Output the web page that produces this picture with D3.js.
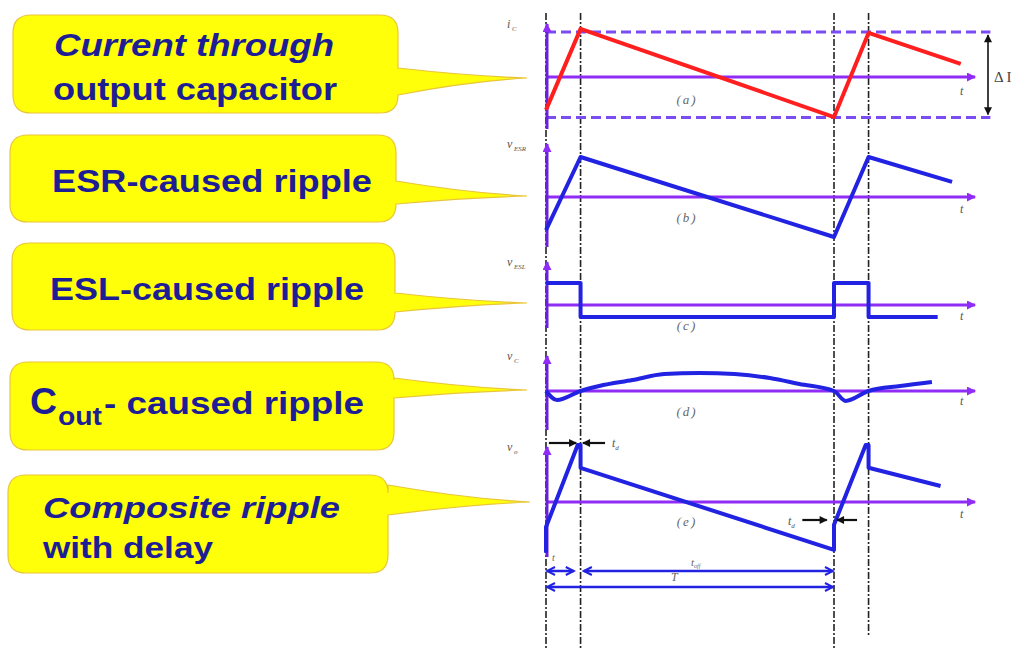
<!DOCTYPE html>
<html>
<head>
<meta charset="utf-8">
<script src="https://cdn.jsdelivr.net/npm/d3@7"></script>
<style>
  html, body { margin: 0; padding: 0; background: #ffffff; }
  svg { display: block; }
</style>
</head>
<body>
<svg id="chart" width="1013" height="648"></svg>
<script>
// ---- Waveform data (time in units of the switching period T, amplitude normalised) ----
const panelTags = ["(a)", "(b)", "(c)", "(d)", "(e)"];
const axisNames = ["i", "v", "v", "v", "v"];
const axisSubs = ["C", "ESR", "ESL", "C", "o"];
const guideTimes = [0, 0.12, 1, 1.12];          // switching edges: 0, t_on, T, T + t_on

// (a) capacitor current
const icTimes = [0, 0.12, 1, 1.12, 1.44];
const icValues = [-0.73, 1.07, -0.89, 0.98, 0.29];
const icBand = [1.0, -0.9];                        // peak / valley guide levels (ΔI)

// (b) ESR ripple
const esrTimes = [0, 0.12, 1, 1.12, 1.41];
const esrValues = [-0.83, 1.0, -1.0, 1.0, 0.38];

// (c) ESL ripple
const eslTimes = [0, 0.12, 0.12, 1, 1, 1.12, 1.12, 1.36];
const eslValues = [1.0, 1.0, -0.55, -0.55, 1.0, 1.0, -0.55, -0.55];

// (d) capacitance ripple
const cTimes = [0, 0.038, 0.12, 0.185, 0.30, 0.41, 0.533, 0.655, 0.777, 0.88, 1.0, 1.04, 1.12, 1.23, 1.34];
const cValues = [0, -0.5, 0, 0.28, 0.61, 0.94, 1.0, 0.94, 0.72, 0.39, 0, -0.55, 0, 0.28, 0.5];

// (e) composite ripple with delay
const voTimes = [0, 0, 0.11, 0.12, 0.12, 1.0, 1.0, 1.11, 1.12, 1.12, 1.37];
const voValues = [-0.89, -0.44, 1.0, 1.0, 0.6, -0.84, -0.4, 1.0, 1.0, 0.6, 0.28];

// Callout texts
const calloutLines = [
  ["Current through", "output capacitor"],
  ["ESR-caused ripple"],
  ["ESL-caused ripple"],
  ["C", "out", " - caused ripple"],
  ["Composite ripple", "with delay"]
];

// ---- Layout ----
const svg = d3.select("#chart");
const x = d3.scaleLinear().domain([0, 1]).range([546, 834]);

const panels = [
  { axisY: 77,  unit: 45, vTop: 24,  vBot: 129, tY: 95,  tagY: 104 },
  { axisY: 197, unit: 40, vTop: 144, vBot: 247, tY: 213, tagY: 222 },
  { axisY: 305, unit: 22, vTop: 262, vBot: 328, tY: 320, tagY: 330 },
  { axisY: 391, unit: 18, vTop: 356, vBot: 430, tY: 405, tagY: 416 },
  { axisY: 502, unit: 57, vTop: 447, vBot: 557, tY: 518, tagY: 526 }
];
panels.forEach(p => {
  p.y = d3.scaleLinear().domain([-1, 1]).range([p.axisY + p.unit, p.axisY - p.unit]);
});

const purple = "#8f2cf5";
const blue = "#2222e2";
const red = "#ff1f1f";
const navy = "#1d1d96";

// ---- Markers ----
const defs = svg.append("defs");
function marker(id, color, w, h, filled) {
  const m = defs.append("marker")
    .attr("id", id).attr("viewBox", "0 0 10 10")
    .attr("refX", 9).attr("refY", 5)
    .attr("markerWidth", w).attr("markerHeight", h)
    .attr("markerUnits", "userSpaceOnUse")
    .attr("orient", "auto-start-reverse");
  if (filled) {
    m.append("path").attr("d", "M0,0 L10,5 L0,10 Z").attr("fill", color);
  } else {
    m.append("path").attr("d", "M1,1 L9,5 L1,9").attr("fill", "none")
      .attr("stroke", color).attr("stroke-width", 2);
  }
}
marker("arrPurple", purple, 11, 9, true);
marker("arrBlack", "#111", 10, 8, true);
marker("arrBlue", blue, 12, 10, false);

// ---- Callout bubbles ----
const bubbles = [
  { x0: 13, y0: 15,  x1: 398, y1: 113, pTop: 68,  pBot: 95,  tipX: 527, tipY: 78 },
  { x0: 10, y0: 135, x1: 396, y1: 222, pTop: 181, pBot: 204, tipX: 527, tipY: 196 },
  { x0: 12, y0: 243, x1: 395, y1: 330, pTop: 293, pBot: 312, tipX: 527, tipY: 303 },
  { x0: 10, y0: 362, x1: 394, y1: 450, pTop: 378, pBot: 398, tipX: 527, tipY: 390 },
  { x0: 8,  y0: 475, x1: 388, y1: 573, pTop: 485, pBot: 515, tipX: 530, tipY: 502 }
];
function bubblePath(b) {
  const r = 18;
  const mx = b.x1 + (b.tipX - b.x1) * 0.55;
  return `M${b.x0 + r},${b.y0} H${b.x1 - r} Q${b.x1},${b.y0} ${b.x1},${b.y0 + r}` +
    ` V${b.pTop} Q${mx},${b.pTop + (b.tipY - b.pTop) * 0.8} ${b.tipX},${b.tipY}` +
    ` Q${mx},${b.pBot - (b.pBot - b.tipY) * 0.8} ${b.x1},${b.pBot}` +
    ` V${b.y1 - r} Q${b.x1},${b.y1} ${b.x1 - r},${b.y1} H${b.x0 + r}` +
    ` Q${b.x0},${b.y1} ${b.x0},${b.y1 - r} V${b.y0 + r} Q${b.x0},${b.y0} ${b.x0 + r},${b.y0} Z`;
}
svg.append("g").selectAll("path").data(bubbles).join("path")
  .attr("d", bubblePath)
  .attr("fill", "#ffff0a").attr("stroke", "#e9c53a").attr("stroke-width", 1.2);

const tg = svg.append("g")
  .attr("font-family", "'Liberation Sans', Arial, sans-serif")
  .attr("font-weight", "bold").attr("fill", navy);
function label(txt, xx, yy, size, len, italic) {
  const t = tg.append("text").attr("x", xx).attr("y", yy)
    .attr("font-size", size).text(txt);
  if (len) t.attr("textLength", len).attr("lengthAdjust", "spacingAndGlyphs");
  if (italic) t.attr("font-style", "italic");
  return t;
}
label(calloutLines[0][0], 54, 56, 31, 280, true);
label(calloutLines[0][1], 53, 100, 31, 284, false);
label(calloutLines[1][0], 52, 192, 31, 320, false);
label(calloutLines[2][0], 50, 300, 31, 314, false);
label(calloutLines[3][0], 30, 414, 36, 27, false);
label(calloutLines[3][1], 58, 425, 26, 44, false);
label(calloutLines[3][2], 104, 414, 31, 260, false);
label(calloutLines[4][0], 43, 518, 30, 297, true);
label(calloutLines[4][1], 43, 558, 30, 170, false);

// ---- Dash-dot guides at switching edges ----
svg.append("g").selectAll("line").data(guideTimes).join("line")
  .attr("x1", d => x(d)).attr("x2", d => x(d))
  .attr("y1", 13).attr("y2", (d, i) => i === 3 ? 637 : 648)
  .attr("stroke", "#222").attr("stroke-width", 1.6)
  .attr("stroke-dasharray", "7,2,2,2");

// ---- Panel (a) ΔI band ----
const pa = panels[0];
svg.append("g").selectAll("line").data(icBand).join("line")
  .attr("x1", x(0)).attr("x2", x(1.543))
  .attr("y1", d => pa.y(d)).attr("y2", d => pa.y(d))
  .attr("stroke", "#7a4cf2").attr("stroke-width", 3)
  .attr("stroke-dasharray", "10,5");
svg.append("line")
  .attr("x1", 988).attr("x2", 988)
  .attr("y1", pa.y(icBand[0]) + 3).attr("y2", pa.y(icBand[1]) - 3)
  .attr("stroke", "#111").attr("stroke-width", 1.6)
  .attr("marker-start", "url(#arrBlack)").attr("marker-end", "url(#arrBlack)");
svg.append("text").attr("x", 994).attr("y", 82)
  .attr("font-family", "'Liberation Serif', serif").attr("font-size", 15)
  .attr("fill", "#444").text("Δ I");

// ---- Axes ----
const axes = svg.append("g");
panels.forEach((p, i) => {
  axes.append("line")
    .attr("x1", x(0)).attr("x2", x(1.49))
    .attr("y1", p.axisY).attr("y2", p.axisY)
    .attr("stroke", purple).attr("stroke-width", 3)
    .attr("marker-end", "url(#arrPurple)");
  axes.append("line")
    .attr("x1", x(0) + 1).attr("x2", x(0) + 1)
    .attr("y1", p.vBot).attr("y2", p.vTop)
    .attr("stroke", "#6a22d8").attr("stroke-width", 3)
    .attr("marker-end", "url(#arrPurple)");
  // axis names
  const nt = axes.append("text")
    .attr("x", 507).attr("y", p.vTop + 4)
    .attr("font-family", "'Liberation Serif', serif").attr("font-style", "italic")
    .attr("font-size", 12).attr("fill", "#555");
  nt.append("tspan").text(axisNames[i]);
  nt.append("tspan").attr("dy", 3).attr("font-size", 7).text(" " + axisSubs[i]);
  // time label and panel tag
  axes.append("text").attr("x", 960).attr("y", p.tY)
    .attr("font-family", "'Liberation Serif', serif").attr("font-style", "italic")
    .attr("font-size", 12).attr("fill", "#555").text("t");
  axes.append("text").attr("x", 687).attr("y", p.tagY)
    .attr("text-anchor", "middle")
    .attr("font-family", "'Liberation Serif', serif").attr("font-style", "italic")
    .attr("font-size", 13).attr("letter-spacing", 2).attr("fill", "#666")
    .text(panelTags[i]);
});

// ---- Waveforms ----
const waves = [
  { t: icTimes, v: icValues, color: red, curve: d3.curveLinear },
  { t: esrTimes, v: esrValues, color: blue, curve: d3.curveLinear },
  { t: eslTimes, v: eslValues, color: blue, curve: d3.curveLinear },
  { t: cTimes, v: cValues, color: blue, curve: d3.curveMonotoneX },
  { t: voTimes, v: voValues, color: blue, curve: d3.curveLinear }
];
waves.forEach((w, i) => {
  const p = panels[i];
  const pts = w.t.map((t, k) => [t, w.v[k]]);
  const line = d3.line().x(d => x(d[0])).y(d => p.y(d[1])).curve(w.curve);
  svg.append("path").attr("d", line(pts))
    .attr("fill", "none").attr("stroke", w.color)
    .attr("stroke-width", 4).attr("stroke-linejoin", "round");
});

// ---- Delay (t_d) markers on panel (e) ----
const blk = svg.append("g").attr("stroke", "#111").attr("stroke-width", 2.2);
blk.append("line").attr("x1", x(0.01)).attr("x2", x(0.105)).attr("y1", 443).attr("y2", 443)
  .attr("marker-end", "url(#arrBlack)");
blk.append("line").attr("x1", x(0.205)).attr("x2", x(0.128)).attr("y1", 443).attr("y2", 443)
  .attr("marker-end", "url(#arrBlack)");
blk.append("line").attr("x1", x(0.89)).attr("x2", x(0.975)).attr("y1", 520).attr("y2", 520)
  .attr("marker-end", "url(#arrBlack)");
blk.append("line").attr("x1", x(1.08)).attr("x2", x(1.01)).attr("y1", 520).attr("y2", 520)
  .attr("marker-end", "url(#arrBlack)");
function tdLabel(xx, yy) {
  const t = svg.append("text").attr("x", xx).attr("y", yy)
    .attr("font-family", "'Liberation Serif', serif").attr("font-style", "italic")
    .attr("font-size", 12).attr("fill", "#555");
  t.append("tspan").text("t");
  t.append("tspan").attr("dy", 3).attr("font-size", 7).text("d");
}
tdLabel(612, 447);
tdLabel(788, 525);

// ---- Timing dimension arrows ----
const dims = [
  { t0: 0, t1: 0.1, y: 571 },
  { t0: 0.128, t1: 1, y: 571 },
  { t0: 0, t1: 1, y: 587 }
];
svg.append("g").selectAll("line").data(dims).join("line")
  .attr("x1", d => x(d.t0) + 1).attr("x2", d => x(d.t1) - 1)
  .attr("y1", d => d.y).attr("y2", d => d.y)
  .attr("stroke", blue).attr("stroke-width", 2.5)
  .attr("marker-start", "url(#arrBlue)").attr("marker-end", "url(#arrBlue)");
const dimText = svg.append("g")
  .attr("font-family", "'Liberation Serif', serif").attr("font-style", "italic")
  .attr("fill", "#666");
dimText.append("text").attr("x", 552).attr("y", 561).attr("font-size", 10).text("t");
const toff = dimText.append("text").attr("x", 691).attr("y", 566).attr("font-size", 11);
toff.append("tspan").text("t");
toff.append("tspan").attr("dy", 2).attr("font-size", 6).text("off");
dimText.append("text").attr("x", 671).attr("y", 581).attr("font-size", 12).text("T");
</script>
</body>
</html>
